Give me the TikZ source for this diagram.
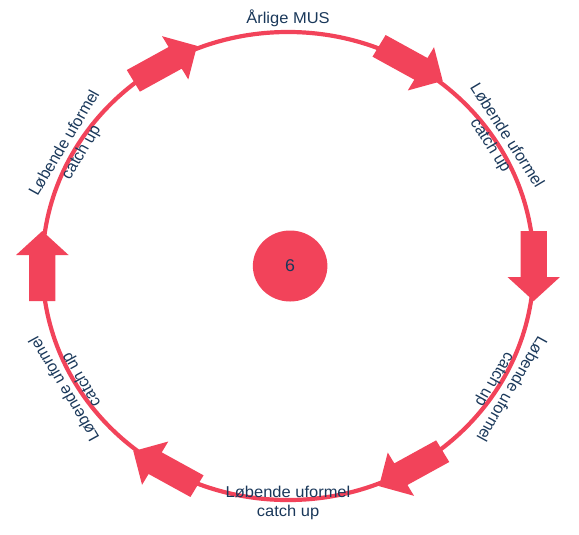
\documentclass[tikz,border=0pt]{standalone}
\usepackage{fontspec}
\setmainfont{Liberation Sans}
\definecolor{cyclered}{RGB}{242,67,90}
\definecolor{labelblue}{RGB}{26,56,90}
\tikzset{
  lbl/.style={text=labelblue, align=center, inner sep=0pt,
    font=\fontsize{15.7}{18.3}\selectfont},
  ringline/.style={circle, draw=cyclered, line width=4.2pt, inner sep=0pt, outer sep=0pt},
}
\begin{document}
\begin{tikzpicture}[x=1pt, y=1pt, xscale=1.05, transform shape]
\useasboundingbox (-274.3,-268) rectangle (277.1,266);
% ring and centre
\node[ringline, minimum size=468pt] (ring) at (0,0) {};
\node[circle, fill=cyclered, minimum size=71pt, inner sep=0pt, text=labelblue,
  font=\fontsize{17}{20}\selectfont] (mid) at (2,0) {6};
% arrows on the ring, clockwise
\foreach \a in {0,60,...,300}
  \fill[cyclered, shift={(\a:234)}, rotate=\a-90]
    (-35,-12.5) -- (11,-12.5) -- (11,-25) -- (35,0) -- (11,25) -- (11,12.5) -- (-35,12.5) -- cycle;
% labels
\node[lbl] (top) at (90:248) {Årlige MUS};
\foreach \a/\r in {32/-58, -30/-120, -150/120, 150/60}
  \node[lbl, rotate=\r] (lbl\a) at (\a:236) {Løbende uformel\\catch up};
\node[lbl] (bottom) at (-90:237) {Løbende uformel\\catch up};
\end{tikzpicture}
\end{document}
